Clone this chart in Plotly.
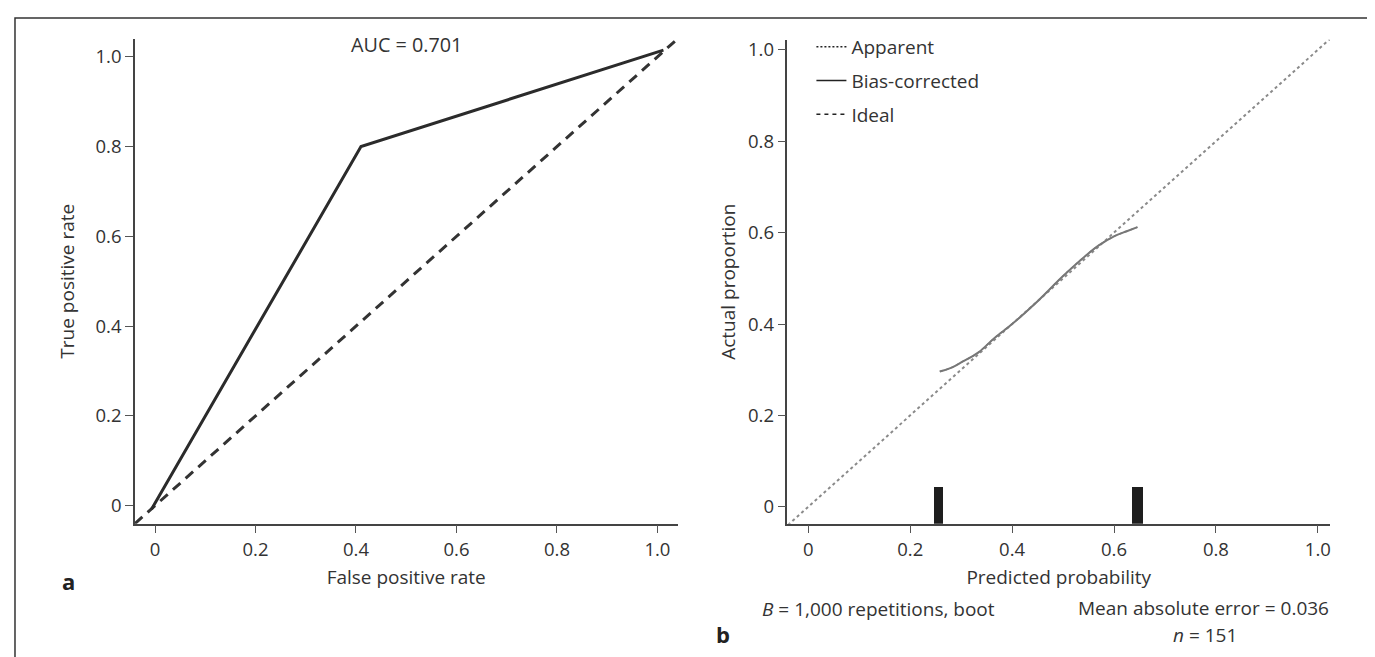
import plotly.graph_objects as go

W, H = 1375, 657

# ---------------- data ----------------
# Panel a: ROC curve
roc_fpr = [-0.007, 0.41, 1.012]
roc_tpr = [-0.008, 0.80, 1.015]
ideal_a = [-0.04, 1.04]
auc_label = "AUC = 0.701"

# Panel b: calibration
ideal_b = [-0.04, 1.025]
cal_pred = [0.258, 0.28, 0.30, 0.334, 0.366, 0.40, 0.45, 0.50, 0.545, 0.57, 0.60, 0.625, 0.646]
cal_bias = [0.296, 0.304, 0.316, 0.338, 0.370, 0.400, 0.450, 0.505, 0.550, 0.572, 0.592, 0.603, 0.612]
cal_app = [0.296, 0.304, 0.316, 0.338, 0.370, 0.400, 0.450, 0.505, 0.550, 0.572, 0.592, 0.603, 0.612]
rug_x = [0.257, 0.647]
rug_w = [0.018, 0.02]
rug_top = 0.044
rug_base = -0.037

ticks = [0, 0.2, 0.4, 0.6, 0.8, 1.0]
tick_text = ["0", "0.2", "0.4", "0.6", "0.8", "1.0"]

FONT = "Open Sans"
TXT = "#333333"
FS = 18.5
FS_T = 19


def px(x):
    return x / W


def py(y):
    return 1 - y / H


fig = go.Figure()

# ---- panel a ----
fig.add_trace(go.Scatter(x=ideal_a, y=ideal_a, mode="lines", xaxis="x", yaxis="y",
                         line=dict(color="#333333", width=3, dash="10px,7px"),
                         showlegend=False, hoverinfo="skip"))
fig.add_trace(go.Scatter(x=roc_fpr, y=roc_tpr, mode="lines", xaxis="x", yaxis="y",
                         line=dict(color="#2b2b2b", width=3),
                         showlegend=False, hoverinfo="skip"))

# ---- panel b ----
fig.add_trace(go.Scatter(x=ideal_b, y=ideal_b, mode="lines", xaxis="x2", yaxis="y2",
                         line=dict(color="#8a8a8a", width=2, dash="3px,3px"),
                         showlegend=False, hoverinfo="skip"))
fig.add_trace(go.Scatter(x=cal_pred, y=cal_app, mode="lines", xaxis="x2", yaxis="y2",
                         line=dict(color="#888888", width=1.5, dash="dot", shape="spline"),
                         showlegend=False, hoverinfo="skip"))
fig.add_trace(go.Scatter(x=cal_pred, y=cal_bias, mode="lines", xaxis="x2", yaxis="y2",
                         line=dict(color="#777777", width=2, shape="spline"),
                         showlegend=False, hoverinfo="skip"))
fig.add_trace(go.Bar(x=rug_x, y=[rug_top - rug_base] * len(rug_x), base=rug_base,
                     width=rug_w, xaxis="x2", yaxis="y2",
                     marker=dict(color="#1e1e1e", line=dict(width=0)),
                     showlegend=False, hoverinfo="skip"))

# legend entries (black samples as in the reference legend)
for name, dash, grp in [("Apparent", "2px,2px", "g1"), ("Bias-corrected", "solid", "g2"), ("Ideal", "4px,4px", "g3")]:
    fig.add_trace(go.Scatter(x=[None], y=[None], mode="lines", name=name, legendgroup=grp,
                             xaxis="x2", yaxis="y2",
                             line=dict(color="#222222", width=1.5, dash=dash)))

axis_common = dict(
    showline=True, linecolor="#444444", linewidth=1.5,
    ticks="outside", ticklen=8, tickwidth=1.3, tickcolor="#555555",
    showgrid=False, zeroline=False,
    tickvals=ticks, ticktext=tick_text,
    tickfont=dict(family=FONT, size=FS, color=TXT),
    fixedrange=True,
)

fig.update_layout(
    width=W, height=H,
    margin=dict(l=0, r=0, t=0, b=0),
    paper_bgcolor="white", plot_bgcolor="white",
    font=dict(family=FONT, size=FS, color=TXT),
    xaxis=dict(domain=[px(127), px(670)], range=[-0.04, 1.04], anchor="y",
               title=dict(text="False positive rate", font=dict(family=FONT, size=FS_T, color=TXT), standoff=11),
               **axis_common),
    yaxis=dict(domain=[py(515), py(28)], range=[-0.04, 1.04], anchor="x",
               title=dict(text="True positive rate", font=dict(family=FONT, size=FS_T, color=TXT), standoff=16),
               **axis_common),
    xaxis2=dict(domain=[px(780), px(1323)], range=[-0.041, 1.024], anchor="y2",
                title=dict(text="Predicted probability", font=dict(family=FONT, size=FS_T, color=TXT), standoff=11),
                **axis_common),
    yaxis2=dict(domain=[py(515), py(29)], range=[-0.037, 1.022], anchor="x2",
                title=dict(text="Actual proportion", font=dict(family=FONT, size=FS_T, color=TXT), standoff=7),
                **axis_common),
    legend=dict(x=px(804), y=py(17), xanchor="left", yanchor="top",
                bgcolor="rgba(0,0,0,0)", traceorder="grouped", tracegroupgap=6,
                font=dict(family=FONT, size=FS_T, color=TXT)),
    bargap=0,
    showlegend=True,
)

# border frame
fig.add_shape(type="rect", xref="paper", yref="paper",
              x0=px(7), x1=px(1369), y0=py(7), y1=-0.02,
              line=dict(color="#333333", width=1.5), fillcolor="rgba(0,0,0,0)")

ann = [
    dict(text=auc_label, x=0.5, y=1.027, xref="x", yref="y", xanchor="center", yanchor="middle",
         font=dict(family=FONT, size=19.8, color=TXT)),
    dict(text="<b>a</b>", x=px(61), y=py(573), xref="paper", yref="paper", xanchor="center", yanchor="middle",
         font=dict(family=FONT, size=22, color="#222222")),
    dict(text="<b>b</b>", x=px(716), y=py(626), xref="paper", yref="paper", xanchor="center", yanchor="middle",
         font=dict(family=FONT, size=22, color="#222222")),
    dict(text="<i>B</i> = 1,000 repetitions, boot", x=px(871), y=py(601), xref="paper", yref="paper",
         xanchor="center", yanchor="middle"),
    dict(text="Mean absolute error = 0.036", x=px(1324), y=py(600), xref="paper", yref="paper",
         xanchor="right", yanchor="middle"),
    dict(text="<i>n</i> = 151", x=px(1198), y=py(627), xref="paper", yref="paper",
         xanchor="center", yanchor="middle"),
]
for a in ann:
    a.setdefault("font", dict(family=FONT, size=FS_T, color=TXT))
    a["showarrow"] = False
    fig.add_annotation(**a)

fig.write_html("out.html")
